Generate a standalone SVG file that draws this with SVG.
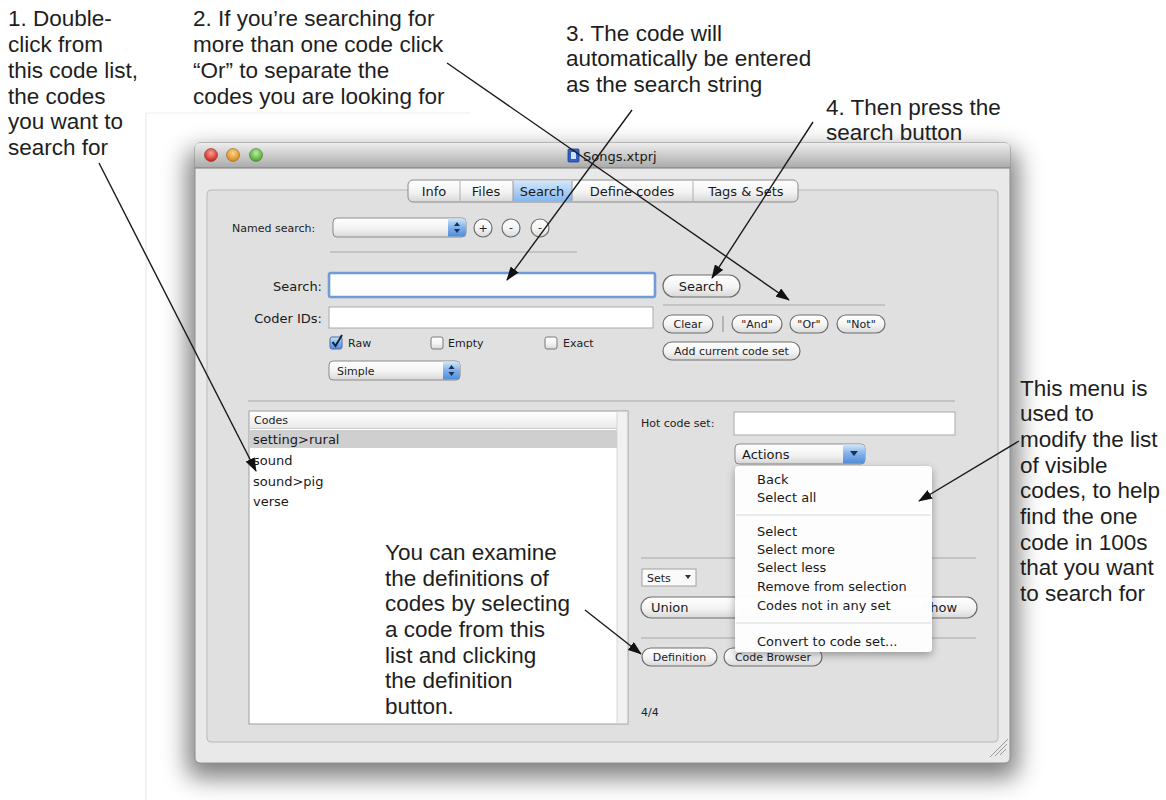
<svg xmlns="http://www.w3.org/2000/svg" width="1166" height="800" viewBox="0 0 1166 800">
<defs>
<style>
.ann{font-family:"Liberation Sans",Arial,Helvetica,sans-serif;font-size:22.5px;fill:#1e1e1e}
.ui{font-family:"DejaVu Sans","Noto Sans",sans-serif;font-size:11px;fill:#222}
.ui13{font-family:"DejaVu Sans","Noto Sans",sans-serif;font-size:13px;fill:#1a1a1a}
.btn{fill:url(#gBtn);stroke:#6e6e6e;stroke-width:1.2}
.field{fill:#fff;stroke:#a9a9a9;stroke-width:1}
.sep{stroke:#a8a8a8;stroke-width:1.2}
.conn{stroke:#1a1a1a;stroke-width:1.4;fill:none;marker-end:url(#arr)}
.chk{fill:url(#gBtn);stroke:#7a7a7a;stroke-width:1}
</style>
<linearGradient id="gBtn" x1="0" y1="0" x2="0" y2="1"><stop offset="0" stop-color="#ffffff"/><stop offset="0.55" stop-color="#f3f3f3"/><stop offset="1" stop-color="#d8d8d8"/></linearGradient>
<linearGradient id="gBlue" x1="0" y1="0" x2="0" y2="1"><stop offset="0" stop-color="#d3e7fb"/><stop offset="0.5" stop-color="#7fb0ea"/><stop offset="1" stop-color="#4f8edb"/></linearGradient>
<linearGradient id="gTitle" x1="0" y1="0" x2="0" y2="1"><stop offset="0" stop-color="#ededed"/><stop offset="1" stop-color="#a9a9a9"/></linearGradient>
<linearGradient id="gTabSel" x1="0" y1="0" x2="0" y2="1"><stop offset="0" stop-color="#d4e8fc"/><stop offset="1" stop-color="#84b7ee"/></linearGradient>
<linearGradient id="gHead" x1="0" y1="0" x2="0" y2="1"><stop offset="0" stop-color="#ffffff"/><stop offset="1" stop-color="#e9e9e9"/></linearGradient>
<radialGradient id="gRed" cx="0.5" cy="0.35" r="0.6"><stop offset="0" stop-color="#ff9c94"/><stop offset="1" stop-color="#c8281f"/></radialGradient>
<radialGradient id="gOrange" cx="0.5" cy="0.35" r="0.6"><stop offset="0" stop-color="#ffd58a"/><stop offset="1" stop-color="#d98a1c"/></radialGradient>
<radialGradient id="gGreen" cx="0.5" cy="0.35" r="0.6"><stop offset="0" stop-color="#b8ef9c"/><stop offset="1" stop-color="#4ea532"/></radialGradient>
<filter id="fShadow" x="-10%" y="-10%" width="120%" height="125%"><feGaussianBlur stdDeviation="12"/></filter>
<filter id="fMenu" x="-10%" y="-10%" width="125%" height="125%"><feDropShadow dx="0" dy="3" stdDeviation="4" flood-color="#000" flood-opacity="0.35"/></filter>
<marker id="arr" markerWidth="14" markerHeight="10" refX="13" refY="5" orient="auto" markerUnits="userSpaceOnUse"><path d="M0,0 L14,5 L0,10 z" fill="#111"/></marker>
</defs>
<rect x="0" y="0" width="1166" height="800" fill="#ffffff"/>
<g id="backdrop">
<line x1="146" y1="113" x2="146" y2="800" stroke="#e6e6e6" stroke-width="1"/>
<line x1="146" y1="113" x2="470" y2="113" stroke="#ececec" stroke-width="1"/>
</g>

<g id="window">
<rect x="187" y="150" width="831" height="628" rx="10" fill="#000" opacity="0.5" filter="url(#fShadow)"/>
<rect x="195" y="143" width="815" height="620" rx="5" fill="#e9e9e9" stroke="#8f8f8f" stroke-width="1"/>
<path d="M195,168 V148 Q195,143 200,143 H1005 Q1010,143 1010,148 V168 Z" fill="url(#gTitle)"/>
<line x1="195" y1="168" x2="1010" y2="168" stroke="#7c7c7c" stroke-width="1"/>
<circle cx="211" cy="155" r="6.5" fill="url(#gRed)" stroke="#8a3a34" stroke-width="0.6"/>
<circle cx="233" cy="155" r="6.5" fill="url(#gOrange)" stroke="#8a6a30" stroke-width="0.6"/>
<circle cx="256" cy="155" r="6.5" fill="url(#gGreen)" stroke="#3f7a30" stroke-width="0.6"/>
<rect x="568" y="149" width="11" height="13" rx="1" fill="#2f5fc7" stroke="#1d3f8a" stroke-width="0.8"/>
<rect x="571" y="152" width="5" height="7" fill="#cfe0ff"/>
<text class="ui13" x="583" y="161">Songs.xtprj</text>
<rect x="207" y="190" width="791" height="552" rx="4" fill="#e0e0e0" stroke="#b9b9b9" stroke-width="1"/>
<path d="M1000,755 L1006,749 M995,756 L1007,744 M990,757 L1008,739" stroke="#9a9a9a" stroke-width="1"/>
</g>

<g id="tabs">
<rect x="408" y="180" width="390" height="22" rx="5" fill="url(#gBtn)" stroke="#8a8a8a" stroke-width="1"/>
<rect x="513" y="180.5" width="59" height="21" fill="url(#gTabSel)"/>
<line x1="460" y1="181" x2="460" y2="201" stroke="#b0b0b0"/>
<line x1="513" y1="181" x2="513" y2="201" stroke="#9a9a9a"/>
<line x1="572" y1="181" x2="572" y2="201" stroke="#9a9a9a"/>
<line x1="693" y1="181" x2="693" y2="201" stroke="#b0b0b0"/>
<text class="ui13" x="434" y="196" text-anchor="middle">Info</text>
<text class="ui13" x="486" y="196" text-anchor="middle">Files</text>
<text class="ui13" x="542" y="196" text-anchor="middle">Search</text>
<text class="ui13" x="632" y="196" text-anchor="middle">Define codes</text>
<text class="ui13" x="746" y="196" text-anchor="middle">Tags &amp; Sets</text>
</g>

<g id="named-search">
<text class="ui" x="232" y="232">Named search:</text>
<rect x="333" y="218" width="133" height="19" rx="4" fill="url(#gBtn)" stroke="#8a8a8a"/>
<path d="M448,218.5 H462 Q466,218.5 466,222.5 V232.5 Q466,236.5 462,236.5 H448 Z" fill="url(#gBlue)"/>
<path d="M454,226 L457,222 L460,226 Z M454,229 L457,233 L460,229 Z" fill="#1c2f55"/>
<circle cx="483" cy="228" r="9" class="btn"/>
<text class="ui" x="483" y="232" text-anchor="middle">+</text>
<circle cx="511" cy="228" r="9" class="btn"/>
<text class="ui" x="511" y="231" text-anchor="middle">-</text>
<circle cx="540" cy="228" r="9" class="btn"/>
<text class="ui" x="540" y="231" text-anchor="middle">-</text>
<line x1="330" y1="252" x2="577" y2="252" class="sep"/>
</g>

<g id="search-field">
<text class="ui13" x="322" y="291" text-anchor="end">Search:</text>
<rect x="329" y="273" width="326" height="24" rx="2" fill="#fff" stroke="#6f9bd7" stroke-width="2.6"/>
</g>
<g id="search-button">
<rect x="663" y="275" width="77" height="22" rx="11" class="btn"/>
<text class="ui13" x="701" y="291" text-anchor="middle">Search</text>
<line x1="663" y1="305" x2="885" y2="305" class="sep"/>
</g>

<g id="coder-ids">
<text class="ui13" x="322" y="323" text-anchor="end">Coder IDs:</text>
<rect x="329" y="307" width="324" height="21" class="field"/>
</g>

<g id="checkboxes">
<rect x="330" y="337" width="12" height="12" rx="2" fill="url(#gBlue)" stroke="#4a6f9f"/>
<path d="M332.5,342 L335.5,346 L342,335" stroke="#112244" stroke-width="2" fill="none"/>
<text class="ui" x="348" y="347">Raw</text>
<rect x="431" y="337" width="12" height="12" rx="2" class="chk"/>
<text class="ui" x="448" y="347">Empty</text>
<rect x="545" y="337" width="12" height="12" rx="2" class="chk"/>
<text class="ui" x="563" y="347">Exact</text>
</g>

<g id="simple-popup">
<rect x="329" y="361" width="131" height="19" rx="4" fill="url(#gBtn)" stroke="#8a8a8a"/>
<path d="M443,361.5 H456 Q460,361.5 460,365.5 V375.5 Q460,379.5 456,379.5 H443 Z" fill="url(#gBlue)"/>
<path d="M448.5,369 L451.5,365 L454.5,369 Z M448.5,372 L451.5,376 L454.5,372 Z" fill="#1c2f55"/>
<text class="ui" x="337" y="375">Simple</text>
</g>

<g id="operator-buttons">
<rect x="663" y="315" width="50" height="18" rx="9" class="btn"/>
<text class="ui" x="688" y="328" text-anchor="middle">Clear</text>
<line x1="723" y1="316" x2="723" y2="332" stroke="#8a8a8a"/>
<rect x="732" y="315" width="50" height="18" rx="9" class="btn"/>
<text class="ui" x="757" y="328" text-anchor="middle">"And"</text>
<rect x="790" y="315" width="38" height="18" rx="9" class="btn"/>
<text class="ui" x="809" y="328" text-anchor="middle">"Or"</text>
<rect x="837" y="315" width="48" height="18" rx="9" class="btn"/>
<text class="ui" x="861" y="328" text-anchor="middle">"Not"</text>
<rect x="663" y="342" width="137" height="18" rx="9" class="btn"/>
<text class="ui" x="731.5" y="355" text-anchor="middle">Add current code set</text>
</g>

<line x1="248" y1="401" x2="955" y2="401" class="sep"/>

<g id="codes-list">
<rect x="249" y="411" width="379" height="313" fill="#fff" stroke="#9d9d9d"/>
<rect x="249.5" y="411.5" width="368" height="17" fill="url(#gHead)" stroke="#c4c4c4" stroke-width="0.8"/>
<rect x="617" y="411.5" width="10.5" height="312" fill="#f1f1f1" stroke="#cfcfcf" stroke-width="0.8"/>
<text class="ui" x="254" y="424">Codes</text>
<rect x="250" y="430" width="367" height="18" fill="#cfcfcf"/>
<text class="ui13" x="253" y="444">setting&gt;rural</text>
<text class="ui13" x="253" y="465">sound</text>
<text class="ui13" x="253" y="486">sound&gt;pig</text>
<text class="ui13" x="253" y="506">verse</text>
</g>

<g id="hot-code-set">
<text class="ui" x="641" y="427">Hot code set:</text>
<rect x="734" y="412" width="221" height="23" class="field"/>
</g>

<g id="actions-popup">
<rect x="735" y="444" width="130" height="20" rx="4" fill="url(#gBtn)" stroke="#8a8a8a"/>
<path d="M843,444.5 H861 Q865,444.5 865,448.5 V459.5 Q865,463.5 861,463.5 H843 Z" fill="url(#gBlue)"/>
<path d="M850,451 L858,451 L854,456 Z" fill="#1c2f55"/>
<text class="ui13" x="742" y="459">Actions</text>
</g>

<g id="sets-area">
<line x1="641" y1="558" x2="976" y2="558" class="sep"/>
<rect x="642" y="569" width="54" height="17" fill="#fafafa" stroke="#a0a0a0"/>
<text class="ui" x="647" y="582">Sets</text>
<path d="M685,575 L691,575 L688,579 Z" fill="#333"/>
<rect x="641" y="597" width="336" height="21" rx="10.5" class="btn"/>
<text class="ui13" x="651" y="612">Union</text>
<text class="ui13" x="922" y="612">Show</text>
<line x1="641" y1="638" x2="976" y2="638" class="sep"/>
</g>

<g id="definition-buttons">
<rect x="642" y="648" width="75" height="18" rx="9" class="btn"/>
<text class="ui" x="679.5" y="661" text-anchor="middle">Definition</text>
<rect x="724" y="648" width="98" height="18" rx="9" class="btn"/>
<text class="ui" x="773" y="661" text-anchor="middle">Code Browser</text>
<text class="ui" x="641" y="716">4/4</text>
</g>

<g id="actions-menu">
<rect x="735" y="466" width="197" height="186" rx="4" fill="#ffffff" fill-opacity="0.97" filter="url(#fMenu)"/>
<text class="ui13" x="757" y="484">Back</text>
<text class="ui13" x="757" y="502">Select all</text>
<line x1="736" y1="515" x2="931" y2="515" stroke="#dadada" stroke-width="1.2"/>
<text class="ui13" x="757" y="536">Select</text>
<text class="ui13" x="757" y="554">Select more</text>
<text class="ui13" x="757" y="572">Select less</text>
<text class="ui13" x="757" y="591">Remove from selection</text>
<text class="ui13" x="757" y="610">Codes not in any set</text>
<line x1="736" y1="623" x2="931" y2="623" stroke="#dadada" stroke-width="1.2"/>
<text class="ui13" x="757" y="646">Convert to code set...</text>
</g>

<g id="annotation-1">
<text class="ann" x="8" y="26">1. Double-</text>
<text class="ann" x="8" y="52">click from</text>
<text class="ann" x="8" y="78">this code list,</text>
<text class="ann" x="8" y="104">the codes</text>
<text class="ann" x="8" y="129">you want to</text>
<text class="ann" x="8" y="155">search for</text>
</g>
<g id="annotation-2">
<text class="ann" x="193" y="26">2. If you’re searching for</text>
<text class="ann" x="193" y="52">more than one code click</text>
<text class="ann" x="193" y="78">“Or” to separate the</text>
<text class="ann" x="193" y="104">codes you are looking for</text>
</g>
<g id="annotation-3">
<text class="ann" x="566" y="41">3. The code will</text>
<text class="ann" x="566" y="66">automatically be entered</text>
<text class="ann" x="566" y="92">as the search string</text>
</g>
<g id="annotation-4">
<text class="ann" x="826" y="115">4. Then press the</text>
<text class="ann" x="826" y="140">search button</text>
</g>
<g id="annotation-menu">
<text class="ann" x="1020" y="396">This menu is</text>
<text class="ann" x="1020" y="421">used to</text>
<text class="ann" x="1020" y="447">modify the list</text>
<text class="ann" x="1020" y="473">of visible</text>
<text class="ann" x="1020" y="498">codes, to help</text>
<text class="ann" x="1020" y="524">find the one</text>
<text class="ann" x="1020" y="550">code in 100s</text>
<text class="ann" x="1020" y="575">that you want</text>
<text class="ann" x="1020" y="601">to search for</text>
</g>
<g id="annotation-definition">
<text class="ann" x="385" y="560">You can examine</text>
<text class="ann" x="385" y="586">the definitions of</text>
<text class="ann" x="385" y="611">codes by selecting</text>
<text class="ann" x="385" y="637">a code from this</text>
<text class="ann" x="385" y="663">list and clicking</text>
<text class="ann" x="385" y="688">the definition</text>
<text class="ann" x="385" y="714">button.</text>
</g>

<g id="connectors">
<line class="conn" x1="99" y1="163" x2="256" y2="471"/>
<line class="conn" x1="447" y1="63" x2="789" y2="300"/>
<line class="conn" x1="632" y1="110" x2="507" y2="280"/>
<line class="conn" x1="813" y1="122" x2="712" y2="278"/>
<line class="conn" x1="1019" y1="441" x2="919" y2="501"/>
<line class="conn" x1="585" y1="610" x2="641" y2="654"/>
</g>
</svg>
